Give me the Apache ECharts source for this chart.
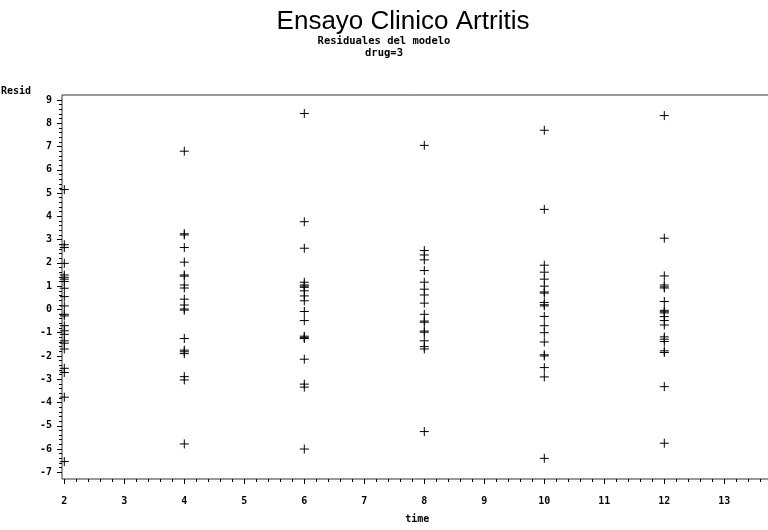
<!DOCTYPE html>
<html>
<head>
<meta charset="utf-8">
<script src="https://cdn.jsdelivr.net/npm/echarts@6/dist/echarts.min.js"></script>
<style>
  html, body { margin: 0; padding: 0; background: #fff; }
  #chart { width: 768px; height: 530px; }
</style>
</head>
<body>
<div id="chart"></div>
<script>
// Visit times (x) and model residuals observed at each visit (drug = 3)
const times = [2, 4, 6, 8, 10, 12];

const residT2 = [5.15, 2.78, 2.66, 1.98, 1.48, 1.38, 1.30, 1.20, 0.91, 0.55, 0.15,
  -0.21, -0.28, -0.70, -0.92, -1.07, -1.35, -1.45, -1.70, -2.53, -2.71, -3.77, -6.54];
const residT4 = [6.80, 3.25, 3.20, 2.66, 2.03, 1.48, 1.43, 1.05, 0.92, 0.44, 0.19,
  0.02, -0.03, -1.25, -1.75, -1.82, -1.90, -2.89, -3.03, -5.78];
const residT6 = [8.42, 3.77, 2.63, 1.17, 1.05, 1.00, 0.95, 0.80, 0.58, 0.37, -0.09,
  -0.48, -1.15, -1.20, -1.25, -2.14, -3.21, -3.34, -6.00];
const residT8 = [7.05, 2.53, 2.34, 2.13, 1.67, 1.17, 0.87, 0.62, 0.27, -0.21, -0.50,
  -0.55, -0.93, -0.98, -1.35, -1.60, -1.70, -5.25];
const residT10 = [7.70, 4.30, 1.90, 1.60, 1.30, 1.00, 0.75, 0.70, 0.30, 0.20, 0.15,
  -0.30, -0.70, -1.00, -1.40, -1.95, -2.00, -2.50, -2.90, -6.40];
const residT12 = [8.33, 3.06, 1.44, 1.05, 0.97, 0.92, 0.34, -0.04, -0.10, -0.15, -0.31,
  -0.48, -0.67, -1.18, -1.28, -1.38, -1.78, -1.85, -3.32, -5.75];

const residByTime = [residT2, residT4, residT6, residT8, residT10, residT12];

// Axis ranges and tick spacing
const xRange = [2, 14];
const yRange = [-7, 9];
const tickStep = 1;

const titleText = 'Ensayo Clinico Artritis';
const subtitleLines = ['Residuales del modelo', 'drug=3'];
const xName = 'time';
const yName = 'Resid';

// Build [time, residual] pairs for the scatter series
const points = [];
times.forEach((t, i) => residByTime[i].forEach(r => points.push([t, r])));

const monoFont = '"DejaVu Sans Mono", "Liberation Mono", monospace';
const labelStyle = { fontFamily: monoFont, fontWeight: 'bold', fontSize: 10, color: '#000' };

const chart = echarts.init(document.getElementById('chart'), null, { renderer: 'canvas' });

chart.setOption({
  animation: false,
  backgroundColor: '#fff',
  graphic: [
    {
      type: 'text', x: 403, y: 22,
      style: { text: titleText, font: '26px "Liberation Sans", Arial, sans-serif', fill: '#000',
        align: 'center', verticalAlign: 'middle', textAlign: 'center', textVerticalAlign: 'middle' }
    },
    {
      type: 'text', x: 384, y: 41,
      style: { text: subtitleLines[0], font: 'bold 10.5px ' + monoFont, fill: '#000',
        align: 'center', verticalAlign: 'middle', textAlign: 'center', textVerticalAlign: 'middle' }
    },
    {
      type: 'text', x: 384, y: 53,
      style: { text: subtitleLines[1], font: 'bold 10.5px ' + monoFont, fill: '#000',
        align: 'center', verticalAlign: 'middle', textAlign: 'center', textVerticalAlign: 'middle' }
    }
  ],
  grid: [
    // outer frame box (right edge runs past the canvas)
    { left: 62, top: 95, right: -16.3, bottom: 51, show: true, borderColor: '#333', borderWidth: 1,
      backgroundColor: 'transparent', outerBoundsMode: 'none', containLabel: false },
    // data area spanning exactly the tick range
    { left: 64.3, top: 100, right: -16.3, bottom: 57.7, outerBoundsMode: 'none', containLabel: false }
  ],
  xAxis: [
    { gridIndex: 0, type: 'value', min: 0, max: 1, show: false },
    {
      gridIndex: 1, type: 'value', min: xRange[0], max: xRange[1], interval: tickStep,
      offset: 6.7,
      axisLine: { show: false, onZero: false },
      axisTick: { show: true, length: 5, lineStyle: { color: '#000', width: 1 } },
      minorTick: { show: true, splitNumber: 5, length: 3, lineStyle: { color: '#000', width: 1 } },
      splitLine: { show: false },
      axisLabel: Object.assign({ margin: 17 }, labelStyle),
      name: xName, nameLocation: 'middle', nameGap: 35,
      nameTextStyle: Object.assign({ padding: [0, 14, 0, 0] }, labelStyle)
    }
  ],
  yAxis: [
    { gridIndex: 0, type: 'value', min: 0, max: 1, show: false },
    {
      gridIndex: 1, type: 'value', min: yRange[0], max: yRange[1], interval: tickStep,
      offset: 2.3,
      axisLine: { show: false, onZero: false },
      axisTick: { show: true, length: 5, lineStyle: { color: '#000', width: 1 } },
      minorTick: { show: true, splitNumber: 5, length: 3, lineStyle: { color: '#000', width: 1 } },
      splitLine: { show: false },
      axisLabel: Object.assign({ margin: 10 }, labelStyle),
      name: yName, nameLocation: 'end', nameGap: 9,
      nameTextStyle: Object.assign({ align: 'right', verticalAlign: 'middle', padding: [0, 31, 0, 0] }, labelStyle)
    }
  ],
  series: [
    {
      type: 'scatter',
      xAxisIndex: 1, yAxisIndex: 1,
      data: points,
      symbol: 'path://M0,5L10,5M5,0L5,10',
      symbolSize: 9,
      itemStyle: { color: 'none', borderColor: '#000', borderWidth: 1, opacity: 1 },
      emphasis: { disabled: true },
      clip: false
    }
  ]
});
</script>
</body>
</html>
